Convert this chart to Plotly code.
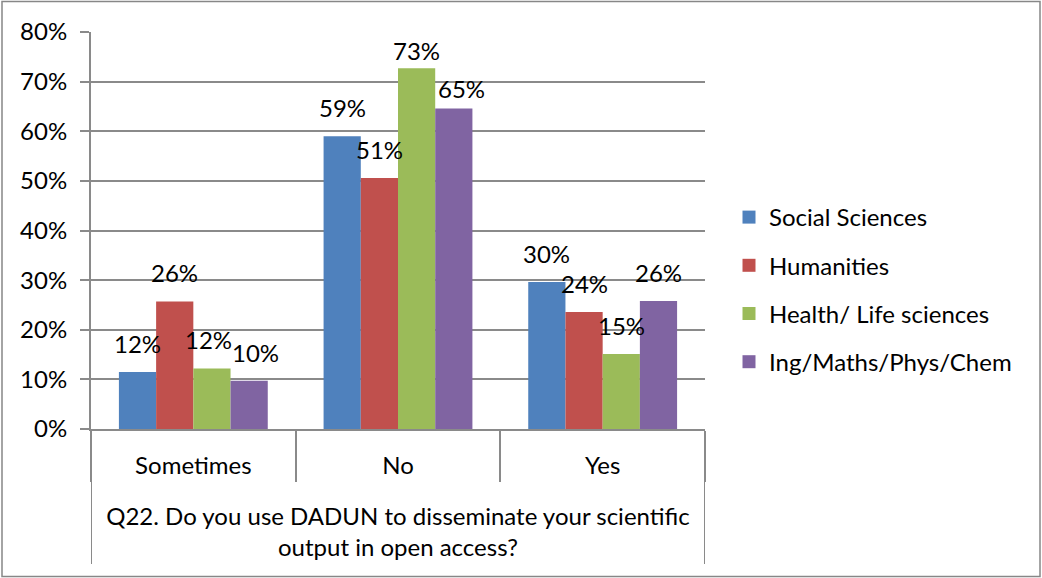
import plotly.graph_objects as go

# Survey answers by field of knowledge (share of respondents)
categories = ["Sometimes", "No", "Yes"]
series_names = ["Social Sciences", "Humanities", "Health/ Life sciences", "Ing/Maths/Phys/Chem"]
social_sciences = [0.115, 0.590, 0.296]
humanities = [0.257, 0.506, 0.236]
health_life = [0.122, 0.727, 0.151]
ing_maths = [0.097, 0.646, 0.258]
question = "Q22. Do you use DADUN to disseminate your scientific<br>output in open access?"
y_ticks = [0.0, 0.1, 0.2, 0.3, 0.4, 0.5, 0.6, 0.7, 0.8]

series_values = [social_sciences, humanities, health_life, ing_maths]
colors = ["#4F81BD", "#C0504D", "#9BBB59", "#8064A2"]

W, H = 1042, 578
ML, MR, MT, MB = 91, 337, 32, 149
PW, PH = W - ML - MR, H - MT - MB
FONT = "Lato"
FS = 24
GRID = "#8a8a8a"
BARGAP = 1.5 / 5.5


def px_x(px):
    return (px - ML) / PW


def px_y(py):
    return (H - MB - py) / PH


fig = go.Figure()

for name, vals, col in zip(series_names, series_values, colors):
    fig.add_trace(go.Bar(
        x=categories, y=vals, name=name, marker_color=col,
        marker_line_width=0, showlegend=False,
    ))
    # legend entry with a square key
    fig.add_trace(go.Scatter(
        x=[None], y=[None], mode="markers", name=name, legendgroup=name,
        marker=dict(symbol="square", size=13, color=col),
    ))

# value labels above each bar (a few nudged apart where they crowd)
bar_w = (1 - BARGAP) / len(series_names)
nudges = {(0, 2): (-3, 0), (0, 3): (6, 0), (1, 2): (0, -11), (1, 3): (8, -9)}
for j, vals in enumerate(series_values):
    for i, v in enumerate(vals):
        dx, dy = nudges.get((i, j), (0, 0))
        fig.add_annotation(
            x=i + (j - 1.5) * bar_w, y=v, xref="x", yref="y",
            text=f"{round(v * 100):d}%", showarrow=False,
            yanchor="bottom", yshift=12 + dy, xshift=dx,
            font=dict(family=FONT, size=FS, color="black"),
        )

shapes = [
    # chart frame
    dict(type="rect", xref="paper", yref="paper",
         x0=px_x(2), x1=px_x(1040), y0=px_y(576.5), y1=px_y(1.5),
         line=dict(color="#878787", width=1.5), layer="below"),
    # outer edges of the two-level category axis
    dict(type="line", xref="x", yref="paper", x0=-0.5, x1=-0.5,
         y0=px_y(564), y1=0, line=dict(color=GRID, width=2)),
    dict(type="line", xref="x", yref="paper", x0=2.5, x1=2.5,
         y0=px_y(564), y1=0, line=dict(color=GRID, width=2)),
]

fig.update_layout(
    width=W, height=H,
    margin=dict(l=ML, r=MR, t=MT, b=MB, pad=0),
    paper_bgcolor="white", plot_bgcolor="white",
    barmode="group", bargap=BARGAP, bargroupgap=0,
    font=dict(family=FONT, size=FS, color="black"),
    shapes=shapes,
    legend=dict(
        x=px_x(729), xanchor="left", y=px_y(289.5), yanchor="middle",
        traceorder="grouped", tracegroupgap=14, itemwidth=30,
        font=dict(family=FONT, size=FS, color="black"),
        bgcolor="rgba(0,0,0,0)",
    ),
    xaxis=dict(
        type="category", range=[-0.5, 2.5],
        showline=True, linecolor=GRID, linewidth=2,
        tickson="boundaries", ticks="outside", ticklen=51,
        tickcolor=GRID, tickwidth=2, showgrid=False,
        ticklabelstandoff=14,
        title=dict(text=question, standoff=30,
                   font=dict(family=FONT, size=FS, color="black")),
        automargin=False,
    ),
    yaxis=dict(
        range=[0, 0.8], tickvals=y_ticks, tickformat=".0%",
        showline=True, linecolor=GRID, linewidth=2,
        showgrid=True, gridcolor=GRID, gridwidth=2,
        ticks="outside", ticklen=9, tickcolor=GRID, tickwidth=2,
        ticklabelstandoff=8, zeroline=False, automargin=False,
    ),
)

fig.write_html("out.html")
